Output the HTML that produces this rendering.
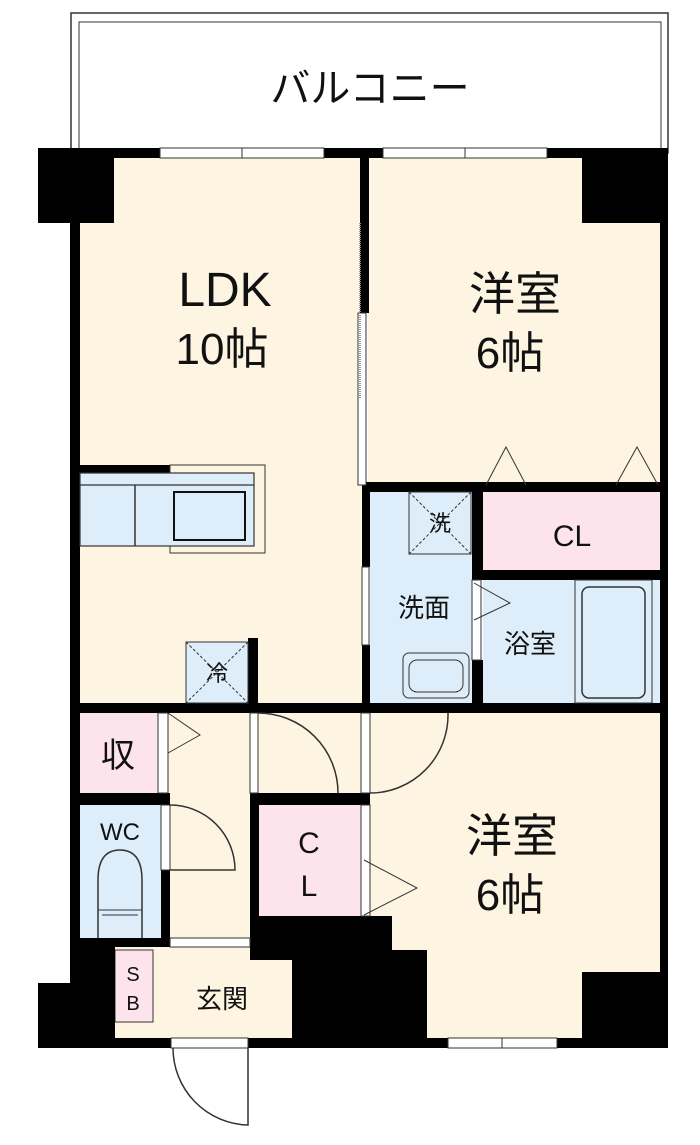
<!DOCTYPE html>
<html><head><meta charset="utf-8"><style>
html,body{margin:0;padding:0;background:#fff;}
svg{display:block;}
text{font-family:"Liberation Sans","Noto Sans CJK JP",sans-serif;fill:#111;text-anchor:middle;}
</style></head><body>
<svg width="700" height="1145" viewBox="0 0 700 1145" xmlns="http://www.w3.org/2000/svg">
<!-- balcony -->
<rect x="71" y="13" width="597" height="140" fill="#fff" stroke="#333" stroke-width="1.5"/>
<rect x="79" y="22" width="582" height="131" fill="none" stroke="#333" stroke-width="1"/>
<text x="370" y="102" font-size="40">バルコニー</text>

<!-- floors -->
<rect x="80" y="158" width="282" height="555" fill="#fdf5e2"/>
<rect x="368" y="158" width="292" height="326" fill="#fdf5e2"/>
<rect x="370" y="492" width="102" height="211" fill="#ddeefa"/>
<rect x="483" y="492" width="178" height="78" fill="#fde4ec"/>
<rect x="483" y="580" width="178" height="123" fill="#ddeefa"/>
<rect x="80" y="713" width="290" height="235" fill="#fdf5e2"/>
<rect x="370" y="713" width="290" height="259" fill="#fdf5e2"/>
<rect x="425" y="940" width="160" height="98" fill="#fdf5e2"/>
<rect x="80" y="713" width="78" height="80" fill="#fde4ec"/>
<rect x="80" y="805" width="81" height="133" fill="#ddeefa"/>
<rect x="259" y="805" width="102" height="111" fill="#fde4ec"/>
<rect x="115" y="947" width="177" height="91" fill="#fdf5e2"/>
<rect x="115" y="950" width="38" height="72" fill="#fde4ec" stroke="#333" stroke-width="1"/>

<!-- black walls -->
<g fill="#000">
<rect x="38" y="148" width="630" height="10"/>
<rect x="38" y="148" width="76" height="75"/>
<rect x="582" y="148" width="86" height="75"/>
<rect x="70" y="148" width="10" height="900"/>
<rect x="660" y="148" width="8" height="900"/>
<rect x="360" y="148" width="9" height="165"/>
<rect x="362" y="482" width="298" height="10"/>
<rect x="362" y="482" width="8" height="85"/>
<rect x="362" y="645" width="8" height="68"/>
<rect x="472" y="482" width="11" height="98"/>
<rect x="472" y="660" width="11" height="43"/>
<rect x="483" y="570" width="177" height="10"/>
<rect x="80" y="703" width="580" height="10"/>
<rect x="80" y="465" width="90" height="8"/>
<rect x="248" y="638" width="10" height="65"/>
<rect x="80" y="793" width="90" height="12"/>
<rect x="158" y="793" width="12" height="12"/>
<rect x="161" y="870" width="9" height="77"/>
<rect x="80" y="938" width="90" height="9"/>
<rect x="250" y="793" width="120" height="12"/>
<rect x="250" y="805" width="9" height="111"/>
<polygon points="250,916 392,916 392,950 427,950 427,1038 292,1038 292,960 250,960"/>
<rect x="38" y="983" width="77" height="65"/>
<rect x="80" y="938" width="35" height="50"/>
<rect x="582" y="972" width="86" height="76"/>
<rect x="38" y="1038" width="630" height="10"/>
<rect x="250" y="947" width="42" height="13"/>
</g>
<!-- thin wall lines -->
<g fill="#fff" stroke="#333" stroke-width="1">
<rect x="160" y="148" width="164" height="10"/>
<rect x="383" y="148" width="164" height="10"/>
<rect x="448" y="1038" width="109" height="10"/>
<rect x="171" y="1038" width="77" height="10"/>
<rect x="358" y="313" width="8" height="172"/>
<rect x="362" y="567" width="7" height="78"/>
<rect x="472" y="580" width="9" height="80"/>
<rect x="158" y="713" width="10" height="80"/>
<rect x="161" y="805" width="9" height="65"/>
<rect x="250" y="713" width="8" height="80"/>
<rect x="361" y="713" width="9" height="80"/>
<rect x="361" y="805" width="9" height="111"/>
<rect x="170" y="938" width="80" height="9"/>
</g>
<line x1="242" y1="148" x2="242" y2="158" stroke="#333"/>
<line x1="465" y1="148" x2="465" y2="158" stroke="#333"/>
<line x1="502" y1="1038" x2="502" y2="1048" stroke="#333"/>
<line x1="360" y1="223" x2="360" y2="398" stroke="#999" stroke-width="2" stroke-dasharray="1,1"/>

<!-- kitchen counter -->
<rect x="170" y="465" width="95" height="88" fill="#fdf5e2" stroke="#333" stroke-width="1"/>
<rect x="80" y="473" width="174" height="73" fill="#ddeefa" stroke="#333" stroke-width="1.2"/>
<line x1="80" y1="485" x2="254" y2="485" stroke="#333" stroke-width="1.2"/>
<line x1="135" y1="485" x2="135" y2="546" stroke="#333" stroke-width="1.5"/>
<rect x="174" y="492" width="71" height="48" fill="#ddeefa" stroke="#111" stroke-width="2"/>

<!-- fixtures -->
<g stroke="#333" stroke-width="1" fill="none">
<rect x="186" y="642" width="62" height="61" fill="#ddeefa"/>
<line x1="186" y1="642" x2="248" y2="703" stroke-dasharray="3,2"/>
<line x1="248" y1="642" x2="186" y2="703" stroke-dasharray="3,2"/>
<rect x="409" y="492" width="62" height="62"/>
<line x1="409" y1="492" x2="471" y2="554" stroke-dasharray="3,2"/>
<line x1="471" y1="492" x2="409" y2="554" stroke-dasharray="3,2"/>
<rect x="403" y="653" width="66" height="45" rx="6"/>
<rect x="409" y="660" width="54" height="32" rx="8"/>
<rect x="575" y="580" width="77" height="123"/>
<rect x="582" y="587" width="63" height="111" rx="7" stroke-width="1.5"/>
<path d="M98 938 V880 Q98 850 120 850 Q142 850 142 880 V938" fill="#ddeefa" stroke-width="1.5"/>
<line x1="98" y1="910" x2="142" y2="910"/><line x1="102" y1="915" x2="138" y2="915"/>
<!-- doors -->
<polyline points="486,485 506,447 526,485"/>
<polyline points="616,485 637,447 658,485"/>
<polyline points="474,583 510,603 474,620"/>
<polyline points="168,713 200,735 168,753"/>
<polyline points="364,860 417,888 364,915"/>
<path d="M258 713 A80 80 0 0 1 338 793" stroke-width="1.5"/>
<path d="M448 713 A78 78 0 0 1 370 793" stroke-width="1.5"/>
<path d="M170 805 A65 65 0 0 1 235 870 H170" stroke-width="1.5"/>
<path d="M173 1048 A77 77 0 0 0 248 1125 V1048" stroke-width="1.5"/>
</g>

<!-- labels -->
<text x="225" y="306" font-size="48">LDK</text>
<text x="222" y="364" font-size="44">10帖</text>
<text x="515" y="310" font-size="46">洋室</text>
<text x="510" y="368" font-size="44">6帖</text>
<text x="572" y="546" font-size="30">CL</text>
<text x="440" y="531" font-size="22">洗</text>
<text x="424" y="617" font-size="26">洗面</text>
<text x="530" y="653" font-size="26">浴室</text>
<text x="217" y="681" font-size="22">冷</text>
<text x="118" y="767" font-size="34">収</text>
<text x="120" y="840" font-size="24">WC</text>
<text x="309" y="853" font-size="30">C</text>
<text x="309" y="896" font-size="30">L</text>
<text x="512" y="852" font-size="46">洋室</text>
<text x="510" y="910" font-size="44">6帖</text>
<text x="133" y="981" font-size="20">S</text>
<text x="133" y="1010" font-size="20">B</text>
<text x="222" y="1008" font-size="26">玄関</text>
</svg>
</body></html>
